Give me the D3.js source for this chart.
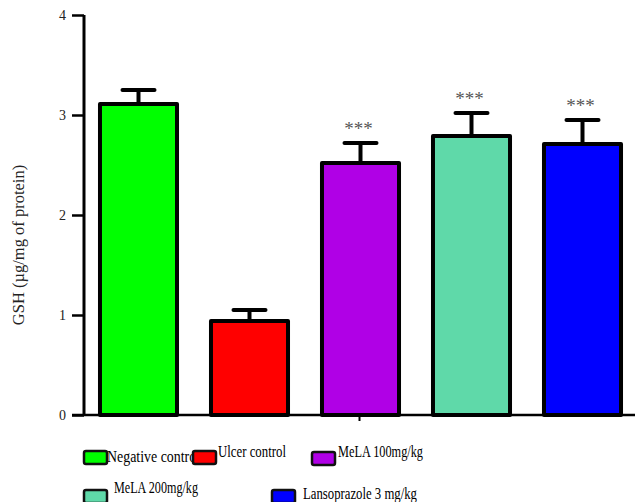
<!DOCTYPE html>
<html>
<head>
<meta charset="utf-8">
<script src="https://cdn.jsdelivr.net/npm/d3@7"></script>
<style>
  body { margin: 0; background: #fff; }
  svg { display: block; font-family: "Liberation Serif", "DejaVu Serif", serif; }
</style>
</head>
<body>
<svg id="chart" width="635" height="502"></svg>
<script>
// data
var groups = ['Negative control', 'Ulcer control', 'MeLA 100mg/kg', 'MeLA 200mg/kg', 'Lansoprazole 3 mg/kg'];
var means = [3.11, 0.94, 2.52, 2.79, 2.71];
var errors = [0.14, 0.11, 0.20, 0.23, 0.24];
var marks = ['', '', '***', '***', '***'];
var yTicks = [0, 1, 2, 3, 4];
var colors = ['#00ff00', '#ff0000', '#b000e6', '#5fd9a9', '#0000ff'];

var svg = d3.select('#chart');

var x = d3.scaleBand().domain(groups).range([84, 637]).paddingInner(0.306).paddingOuter(0.144);
var y = d3.scaleLinear().domain([0, 4]).range([415, 15]);

// y axis
var yAxis = d3.axisLeft(y).tickValues(yTicks).tickSize(12).tickPadding(6).tickFormat(d3.format('d'));
var yG = svg.append('g').attr('transform', 'translate(84,0)').call(yAxis);
yG.select('.domain').attr('d', 'M0,15V415').attr('stroke', '#000').attr('stroke-width', 3);
yG.selectAll('.tick line').attr('stroke', '#000').attr('stroke-width', 2.5);
yG.selectAll('.tick text').attr('font-size', 14).attr('fill', '#222').attr('font-family', '"Liberation Serif", serif');

// x axis line
svg.append('line')
    .attr('x1', 72).attr('x2', 635)
    .attr('y1', y(0)).attr('y2', y(0))
    .attr('stroke', '#000').attr('stroke-width', 2.5);
svg.append('line')
    .attr('x1', x(groups[2]) + x.bandwidth() / 2 - 1).attr('x2', x(groups[2]) + x.bandwidth() / 2 - 1)
    .attr('y1', y(0)).attr('y2', y(0) + 6)
    .attr('stroke', '#000').attr('stroke-width', 2);

svg.append('text')
    .attr('transform', 'translate(24,245) rotate(-90)')
    .attr('text-anchor', 'middle')
    .attr('font-size', 16.5)
    .attr('fill', '#222')
    .text('GSH (µg/mg of protein)');

// error bars first, bars on top
var err = svg.append('g').selectAll('g').data(groups).enter().append('g');
err.append('line')
    .attr('x1', d => x(d) + x.bandwidth() / 2).attr('x2', d => x(d) + x.bandwidth() / 2)
    .attr('y1', (d, i) => y(means[i])).attr('y2', (d, i) => y(means[i] + errors[i]))
    .attr('stroke', '#000').attr('stroke-width', 4);
err.append('line')
    .attr('x1', d => x(d) + x.bandwidth() / 2 - 16).attr('x2', d => x(d) + x.bandwidth() / 2 + 16)
    .attr('y1', (d, i) => y(means[i] + errors[i])).attr('y2', (d, i) => y(means[i] + errors[i]))
    .attr('stroke', '#000').attr('stroke-width', 4).attr('stroke-linecap', 'round');

svg.append('g').selectAll('rect').data(groups).enter().append('rect')
    .attr('x', d => x(d))
    .attr('y', (d, i) => y(means[i]))
    .attr('width', x.bandwidth())
    .attr('height', (d, i) => y(0) - y(means[i]))
    .attr('fill', (d, i) => colors[i])
    .attr('stroke', '#000').attr('stroke-width', 4).attr('stroke-linejoin', 'round');

svg.append('g').selectAll('text').data(groups).enter().append('text')
    .attr('x', d => x(d) + x.bandwidth() / 2 - 2)
    .attr('y', (d, i) => y(means[i] + errors[i]) - 8)
    .attr('text-anchor', 'middle')
    .attr('font-size', 19)
    .attr('fill', '#555')
    .text((d, i) => marks[i]);

// legend, laid out by hand like the original: swatch x, y, text x, baseline, text width
var legendPos = [[84, 451, 107, 462, 93], [193, 451, 218, 457, 68], [312, 452, 338, 457, 85], [84, 490, 114, 493, 84], [272, 490, 303, 499, 114]];
var lg = svg.append('g').selectAll('g').data(groups).enter().append('g');
lg.append('text')
    .attr('x', (d, i) => legendPos[i][2]).attr('y', (d, i) => legendPos[i][3])
    .attr('font-size', 17)
    .attr('fill', '#000')
    .attr('textLength', (d, i) => legendPos[i][4])
    .attr('lengthAdjust', 'spacingAndGlyphs')
    .text(d => d);
lg.append('rect')
    .attr('x', (d, i) => legendPos[i][0]).attr('y', (d, i) => legendPos[i][1])
    .attr('width', 23).attr('height', 13).attr('rx', 2)
    .attr('fill', (d, i) => colors[i])
    .attr('stroke', '#111').attr('stroke-width', 2.5);
</script>
</body>
</html>
